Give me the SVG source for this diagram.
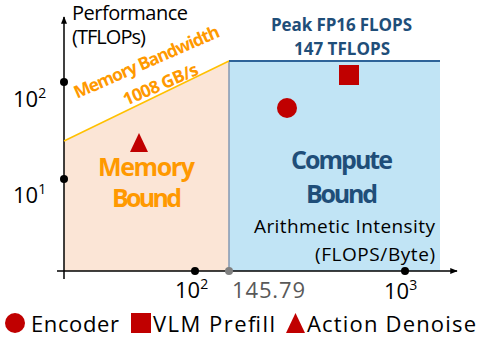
<svg xmlns="http://www.w3.org/2000/svg" width="484" height="339" viewBox="0 0 484 339">
<style>
text{font-family:"Open Sans","Liberation Sans",sans-serif}
.ax{stroke:#000;stroke-width:1.5;fill:none}
.dot{fill:#000}
.lbl{font-size:22px;fill:#000}
.sup{font-size:14px}
.mk{fill:#C00000}
.ob{font-weight:bold;fill:#FF9900}
.cb{font-weight:bold;fill:#1F4E79}
</style>
<defs>
<marker id="arr" viewBox="0 0 10 10" refX="9" refY="5" markerWidth="5" markerHeight="5" orient="auto"><path d="M0,1 L10,5 L0,9 Z" fill="#000"/></marker>
</defs>
<g id="regions">
<polygon id="memory-region" points="64,141 229,61 229,271 64,271" fill="#FBE5D6"/>
<rect id="compute-region" x="229" y="61" width="211" height="210" fill="#C1E4F5"/>
<line x1="229" y1="61" x2="229" y2="271" stroke="#8497B0" stroke-width="1.5"/>
</g>
<g id="connectors">
<line class="ax" x1="64" y1="279" x2="64" y2="17" marker-end="url(#arr)"/>
<line class="ax" x1="57" y1="271" x2="457" y2="271" marker-end="url(#arr)"/>
<line x1="64" y1="141" x2="229" y2="61" stroke="#FFC000" stroke-width="1.5"/>
<line x1="229" y1="61" x2="440" y2="61" stroke="#2E6399" stroke-width="2"/>
</g>
<g id="ticks">
<circle class="dot" cx="64" cy="82" r="4"/>
<circle class="dot" cx="64" cy="179" r="4"/>
<circle class="dot" cx="195" cy="271" r="4"/>
<circle cx="229" cy="271" r="4" fill="#808080"/>
<circle class="dot" cx="405" cy="271" r="4"/>
</g>
<g id="axis-labels">
<text x="72" y="20" font-size="20" textLength="116">Performance</text>
<text x="72" y="44" font-size="20" textLength="74">(TFLOPs)</text>
<text class="lbl" x="13" y="107">10<tspan class="sup" dy="-9">2</tspan></text>
<text class="lbl" x="13" y="203">10<tspan class="sup" dy="-9">1</tspan></text>
<text class="lbl" x="175" y="298">10<tspan class="sup" dy="-9">2</tspan></text>
<text class="lbl" x="232" y="298" style="fill:#595959" textLength="73">145.79</text>
<text class="lbl" x="384" y="299">10<tspan class="sup" dy="-9">3</tspan></text>
<text x="254" y="233" font-size="19" textLength="181">Arithmetic Intensity</text>
<text x="315" y="261" font-size="19" textLength="120">(FLOPS/Byte)</text>
</g>
<g id="memory-bandwidth">
<text class="ob" font-size="17.5" text-anchor="middle" textLength="157" transform="translate(149,67.5) rotate(-23.5)">Memory Bandwidth</text>
<text class="ob" font-size="17.5" text-anchor="middle" textLength="80" transform="translate(163,90) rotate(-23.5)">1008 GB/s</text>
</g>
<g id="peak">
<text class="cb" x="271" y="31" font-size="17" textLength="141">Peak FP16 FLOPS</text>
<text class="cb" x="294" y="55" font-size="17" textLength="96">147 TFLOPS</text>
</g>
<g id="memory-bound">
<text class="ob" x="98" y="176" font-size="25" textLength="97">Memory</text>
<text class="ob" x="112" y="207" font-size="25" textLength="70">Bound</text>
</g>
<g id="compute-bound">
<text class="cb" x="291" y="169" font-size="25" textLength="102">Compute</text>
<text class="cb" x="306" y="203" font-size="25" textLength="72">Bound</text>
</g>
<g id="points">
<polygon class="mk" points="139,133 148,152 130,152"/>
<circle class="mk" cx="287" cy="108" r="10"/>
<rect class="mk" x="339" y="65" width="20" height="20"/>
</g>
<g id="legend">
<circle class="mk" cx="15" cy="323" r="10"/>
<text class="lbl" x="31" y="332" textLength="88">Encoder</text>
<rect class="mk" x="131" y="313" width="20" height="20"/>
<text class="lbl" x="153" y="332" textLength="122">VLM Prefill</text>
<polygon class="mk" points="295.5,313 305,333 286,333"/>
<text class="lbl" x="307" y="332" textLength="169">Action Denoise</text>
</g>
</svg>
